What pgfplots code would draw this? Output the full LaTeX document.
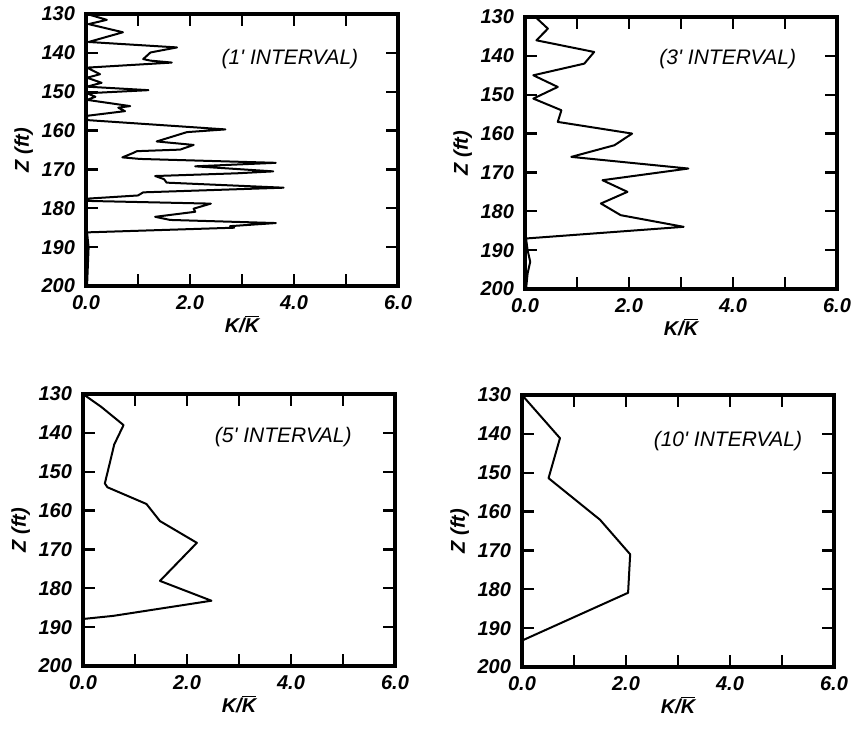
\documentclass[border=0pt]{standalone}
\usepackage{fontspec}
\setmainfont{Liberation Sans}
\usepackage{pgfplots}
\pgfplotsset{compat=1.18}

\pgfplotsset{
  kpanel/.style={
    scale only axis, width=156pt, height=136pt,
    xmin=0, xmax=6, ymin=130, ymax=200, y dir=reverse,
    xtick={0,1,...,6}, xticklabels={0.0,,2.0,,4.0,,6.0},
    ytick={130,140,...,200}, yticklabels={130,140,150,160,170,180,190,200},
    tick align=inside, major tick length=6pt,
    axis line style={line width=2pt},
    major tick style={black,line width=1.1pt},
    tick label style={font=\fontsize{10}{12}\selectfont\bfseries\itshape},
    xticklabel style={yshift=-1pt},
    yticklabel style={xshift=-2pt},
    label style={font=\fontsize{10}{12}\selectfont\bfseries\itshape},
    xlabel={K/$\overline{\mbox{\bfseries\itshape K}}$},
    ylabel={Z (ft)},
    xlabel style={at={(axis description cs:0.5,-0.14)},anchor=center},
    ylabel style={at={(axis description cs:-0.2,0.5)},anchor=center},
  },
}
\tikzset{
  kline/.style={black,line width=1pt,line join=round},
  ktag/.style={font=\fontsize{10.5}{12}\selectfont\itshape},
}

\begin{document}
\begin{tikzpicture}
\useasboundingbox (0,0) rectangle (427pt,-364pt);

% 1 ft interval
\begin{axis}[kpanel, at={(43pt,-7pt)}, anchor=north west]
\addplot[kline,mark=none] coordinates {
(0.02,130) (0.4,131.5) (0.05,132.6) (0.71,134.7) (0.05,137.2) (1.75,138.6)
(1.24,139.9) (1.1,141.6) (1.24,142) (1.65,142.5) (0.02,143.8) (0.27,145.5)
(0.02,146.4) (0.3,147.7) (0.02,148.7) (1.2,149.6) (0.02,150.4) (0.18,151.3)
(0.02,152.1) (0.85,153.7) (0.62,154.1) (0.75,155) (0.02,156.2) (0.02,157.3)
(2.68,159.7) (1.94,160.4) (1.36,162.8) (2.07,163.7) (1.81,164.9) (0.98,165.3)
(0.9,165.8) (0.7,166.9) (1.04,167.3) (3.65,168.3) (2.1,169.2) (3.6,170.5)
(2.9,171.0) (1.33,171.7) (1.5,172.5) (1.55,173.4) (3.8,174.7) (1.1,175.9)
(1.0,176.7) (0.05,177.5) (0.02,178.1) (2.4,178.8) (2.07,180.1) (2.1,180.9)
(1.33,182.2) (1.62,183) (3.65,183.8) (2.77,184.6) (2.85,185) (0.02,186.2)
(0.05,190) (0.02,200)
};
\node[ktag] at (axis cs:3.92,141.5) {(1\textquotesingle{} INTERVAL)};
\end{axis}

% 3 ft interval
\begin{axis}[kpanel, at={(262.5pt,-8.5pt)}, anchor=north west]
\addplot[kline,mark=none] coordinates {
(0.2,130) (0.44,133) (0.22,136) (1.33,139) (1.14,142) (0.16,145) (0.63,148)
(0.16,151) (0.7,154) (0.63,157) (2.06,160) (1.72,163) (0.89,166) (3.14,169)
(1.49,172) (1.97,175) (1.46,178) (1.84,181) (3.05,184) (0.02,187) (0.05,190)
(0.1,193) (0.05,196) (0.02,200)
};
\node[ktag] at (axis cs:3.9,140.9) {(3\textquotesingle{} INTERVAL)};
\end{axis}

% 5 ft interval
\begin{axis}[kpanel, at={(41.5pt,-197pt)}, anchor=north west]
\addplot[kline,mark=none] coordinates {
(0,130) (0.35,133.3) (0.78,138) (0.6,143) (0.52,147.5) (0.42,153) (0.47,154)
(1.22,158.3) (1.48,162.7) (2.19,168.3) (1.48,178.1) (2.47,183.2) (0.58,187.1)
(0,187.9) (0,200)
};
\node[ktag] at (axis cs:3.85,141) {(5\textquotesingle{} INTERVAL)};
\end{axis}

% 10 ft interval
\begin{axis}[kpanel, at={(261pt,-197.5pt)}, anchor=north west]
\addplot[kline,mark=none] coordinates {
(0,130) (0.73,141.1) (0.51,151.4) (1.5,162.1) (2.08,171) (2.04,180.9)
(0,193.2) (0,200)
};
\node[ktag] at (axis cs:3.96,141.8) {(10\textquotesingle{} INTERVAL)};
\end{axis}
\end{tikzpicture}
\end{document}
